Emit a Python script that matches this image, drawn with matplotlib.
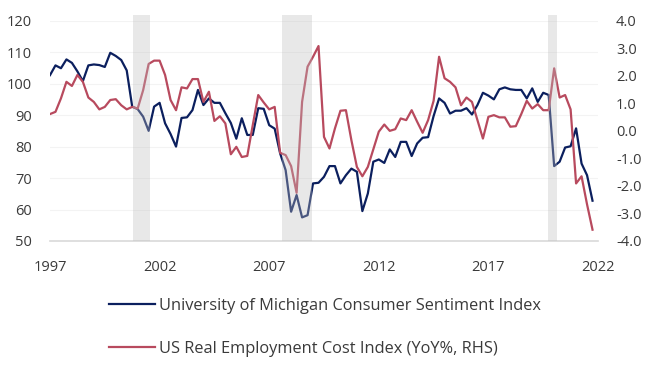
import matplotlib.pyplot as plt
import numpy as np

plt.rcParams['font.family'] = ['Open Sans', 'DejaVu Sans']
plt.rcParams['axes.unicode_minus'] = False

# quarterly data, 1997Q1 - 2021Q4
start_year = 1997
sentiment = [102.7, 105.8, 104.9, 107.7, 106.6, 103.9, 100.8, 105.8, 106.1, 105.9,
             105.3, 109.8, 108.8, 107.5, 104.2, 92.7, 91.9, 89.5, 85.0, 92.7,
             93.9, 87.4, 84.0, 80.0, 89.1, 89.3, 91.6, 98.0, 93.2, 95.3,
             93.9, 93.9, 90.6, 87.5, 82.5, 89.0, 83.7, 83.7, 92.2, 92.0,
             86.8, 85.7, 77.8, 72.5, 59.3, 64.6, 57.5, 58.2, 68.3, 68.5,
             70.4, 73.8, 73.8, 68.3, 70.9, 73.0, 72.0, 59.5, 65.1, 75.2,
             75.9, 74.8, 79.1, 76.7, 81.5, 81.5, 77.0, 81.0, 82.8, 83.0,
             89.7, 95.3, 93.9, 90.5, 91.4, 91.4, 92.2, 90.2, 93.2, 97.1,
             96.2, 95.0, 98.2, 98.8, 98.2, 98.0, 98.0, 95.3, 98.5, 94.2,
             97.1, 96.4, 73.8, 75.2, 79.7, 80.1, 85.8, 74.6, 70.9, 62.8]
real_eci = [0.61, 0.69, 1.18, 1.78, 1.63, 2.03, 1.78, 1.21, 1.05, 0.78,
            0.87, 1.12, 1.15, 0.93, 0.78, 0.87, 0.81, 1.48, 2.43, 2.55,
            2.55, 2.03, 1.12, 0.75, 1.58, 1.54, 1.88, 1.88, 1.05, 1.42,
            0.36, 0.53, 0.27, -0.85, -0.58, -0.95, -0.91, 0.21, 1.30, 1.03,
            0.78, 0.87, -0.80, -0.88, -1.28, -2.25, 1.05, 2.33, 2.69, 3.08,
            -0.22, -0.64, 0.09, 0.73, 0.75, -0.34, -1.31, -1.65, -1.31, -0.67,
            -0.03, 0.23, 0.00, 0.06, 0.45, 0.39, 0.75, 0.33, -0.07, 0.39,
            1.09, 2.69, 1.91, 1.78, 1.58, 0.93, 1.21, 1.05, 0.39, -0.28,
            0.51, 0.57, 0.49, 0.49, 0.15, 0.17, 0.61, 1.09, 0.81, 0.97,
            0.75, 0.75, 2.27, 1.21, 1.30, 0.78, -1.91, -1.65, -2.67, -3.59]
recessions = [(2000.8, 2001.55), (2007.58, 2008.95), (2019.72, 2020.13)]
year_ticks = [1997, 2002, 2007, 2012, 2017, 2022]

years = start_year + np.arange(len(sentiment)) * 0.25

blue = '#0b1f5e'
red = '#b84a5e'
txt = '#3a3a3a'

fig = plt.figure(figsize=(6.5, 3.72), dpi=100)
ax = fig.add_axes([50 / 650, 1 - 241 / 372, 548 / 650, 220.3 / 372])
ax2 = ax.twinx()

l1, = ax.plot(years, sentiment, color=blue, lw=1.6, zorder=3)
l2, = ax2.plot(years, real_eci, color=red, lw=1.6, zorder=3)

# recession bars drawn on top, semi-transparent
for a, b in recessions:
    ax2.axvspan(a, b, ymin=0, ymax=1.026, color='#bfbfbf', alpha=0.35,
                lw=0, zorder=5, clip_on=False)

ax.set_xlim(1997, 2022)
ax.set_ylim(50, 120)
ax2.set_ylim(-4, 4)
ax.set_yticks(range(50, 121, 10))
ax2.set_yticks(range(-4, 5))
ax2.set_yticklabels([f'{v:.1f}' for v in range(-4, 5)])
ax.set_xticks(year_ticks)
ax.set_xticklabels([str(y) for y in year_ticks])

for a in (ax, ax2):
    for s in a.spines.values():
        s.set_visible(False)
    a.tick_params(length=0, labelsize=10.5, labelcolor=txt)
ax.spines['bottom'].set_visible(True)
ax.spines['bottom'].set_color('#d9d9d9')
ax.spines['bottom'].set_linewidth(1.2)
ax.tick_params(axis='y', pad=13)
ax2.tick_params(axis='y', pad=13)
ax.tick_params(axis='x', pad=14)
ax.grid(axis='y', color='#f3f3f3', lw=0.8)
ax.set_axisbelow(True)

fig.legend([l1, l2], ['University of Michigan Consumer Sentiment Index',
                      'US Real Employment Cost Index (YoY%, RHS)'],
           loc='upper left', bbox_to_anchor=(94 / 650, 1 - 283 / 372),
           frameon=False, fontsize=11.8, handlelength=2.85, handletextpad=0.2,
           labelspacing=1.66, labelcolor=txt)

plt.savefig('out.png', dpi=100)
